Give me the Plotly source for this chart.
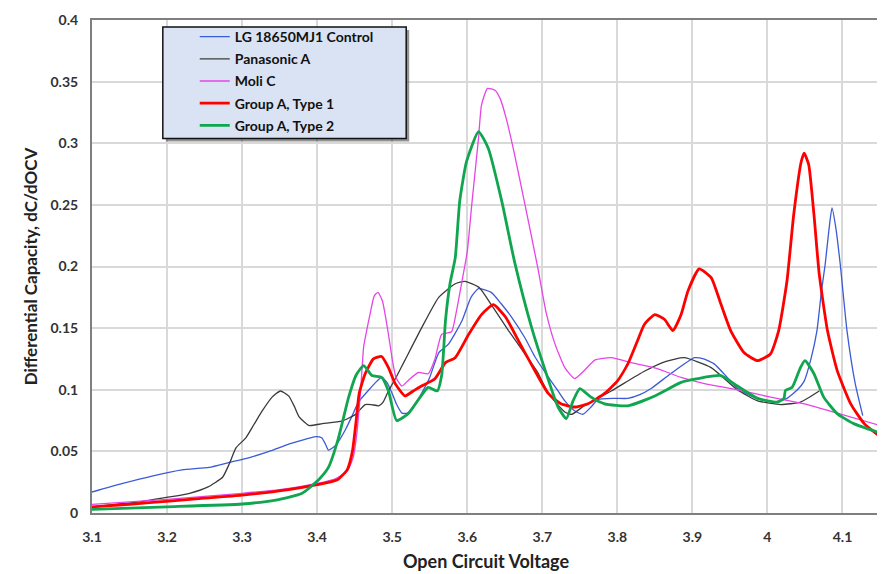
import plotly.graph_objects as go

# ---------------- data ----------------
lg_v = [3.100, 3.141, 3.180, 3.220, 3.256, 3.283, 3.310, 3.336, 3.363, 3.385, 3.398, 3.406, 3.411, 3.415,
        3.425, 3.438, 3.446, 3.455, 3.469, 3.478, 3.486, 3.493, 3.500, 3.506, 3.513, 3.520, 3.531, 3.539,
        3.550, 3.562, 3.575, 3.593, 3.605, 3.615, 3.632, 3.645, 3.659, 3.677, 3.690, 3.705, 3.721, 3.730,
        3.743, 3.754, 3.765, 3.774, 3.796, 3.814, 3.830, 3.845, 3.871, 3.903, 3.915, 3.929, 3.945, 3.960,
        3.985, 4.009, 4.026, 4.040, 4.049, 4.058, 4.066, 4.072, 4.077, 4.082, 4.086, 4.091, 4.097, 4.106,
        4.117, 4.127]
lg_c = [0.017, 0.024, 0.030, 0.035, 0.037, 0.041, 0.045, 0.050, 0.056, 0.060, 0.062, 0.061, 0.056, 0.051,
        0.055, 0.068, 0.078, 0.090, 0.100, 0.106, 0.110, 0.106, 0.097, 0.088, 0.081, 0.081, 0.089, 0.097,
        0.110, 0.130, 0.137, 0.156, 0.175, 0.182, 0.179, 0.170, 0.159, 0.142, 0.127, 0.113, 0.099, 0.091,
        0.083, 0.080, 0.086, 0.092, 0.093, 0.093, 0.096, 0.101, 0.113, 0.126, 0.125, 0.121, 0.111, 0.101,
        0.093, 0.090, 0.093, 0.100, 0.107, 0.125, 0.148, 0.180, 0.202, 0.230, 0.2475, 0.232, 0.202, 0.148,
        0.105, 0.079]

pan_v = [3.100, 3.130, 3.163, 3.203, 3.230, 3.254, 3.274, 3.283, 3.292, 3.305, 3.316, 3.327, 3.340, 3.351,
         3.362, 3.370, 3.376, 3.389, 3.407, 3.433, 3.451, 3.464, 3.472, 3.482, 3.488, 3.495, 3.506, 3.517,
         3.539, 3.562, 3.584, 3.597, 3.616, 3.632, 3.655, 3.677, 3.694, 3.708, 3.730, 3.739, 3.756, 3.792,
         3.836, 3.865, 3.889, 3.925, 3.960, 3.987, 4.018, 4.044, 4.069]
pan_c = [0.005, 0.007, 0.009, 0.013, 0.016, 0.021, 0.029, 0.040, 0.053, 0.061, 0.072, 0.083, 0.094, 0.099,
         0.095, 0.086, 0.078, 0.071, 0.0725, 0.0745, 0.080, 0.088, 0.088, 0.087, 0.090, 0.099, 0.111, 0.124,
         0.150, 0.175, 0.186, 0.188, 0.183, 0.169, 0.148, 0.129, 0.114, 0.097, 0.082, 0.080, 0.087, 0.099,
         0.115, 0.123, 0.126, 0.118, 0.100, 0.091, 0.088, 0.090, 0.099]

moli_v = [3.100, 3.200, 3.300, 3.350, 3.400, 3.425, 3.440, 3.448, 3.453, 3.458, 3.462, 3.466, 3.470, 3.476,
          3.481, 3.487, 3.495, 3.500, 3.505, 3.513, 3.522, 3.535, 3.548, 3.557, 3.566, 3.579, 3.586, 3.593,
          3.600, 3.606, 3.615, 3.619, 3.627, 3.637, 3.644, 3.652, 3.663, 3.677, 3.694, 3.705, 3.717, 3.730,
          3.743, 3.755, 3.770, 3.792, 3.818, 3.854, 3.885, 3.916, 3.960, 4.004, 4.049, 4.093, 4.150]
moli_c = [0.007, 0.011, 0.016, 0.019, 0.024, 0.028, 0.034, 0.045, 0.065, 0.100, 0.135, 0.148, 0.160, 0.176,
          0.179, 0.172, 0.145, 0.125, 0.110, 0.103, 0.108, 0.114, 0.113, 0.125, 0.145, 0.147, 0.165, 0.188,
          0.212, 0.250, 0.304, 0.331, 0.3445, 0.343, 0.336, 0.320, 0.291, 0.250, 0.199, 0.163, 0.137, 0.118,
          0.109, 0.115, 0.124, 0.126, 0.122, 0.117, 0.110, 0.105, 0.100, 0.094, 0.0886, 0.081, 0.071]

t1_v = [3.100, 3.150, 3.203, 3.250, 3.300, 3.362, 3.400, 3.427, 3.440, 3.447, 3.452, 3.456, 3.464, 3.475,
        3.486, 3.495, 3.504, 3.517, 3.528, 3.539, 3.557, 3.571, 3.584, 3.602, 3.619, 3.635, 3.651, 3.668,
        3.686, 3.708, 3.725, 3.743, 3.761, 3.783, 3.800, 3.814, 3.827, 3.836, 3.850, 3.863, 3.874, 3.885,
        3.894, 3.909, 3.925, 3.938, 3.951, 3.969, 3.987, 4.004, 4.015, 4.026, 4.035, 4.045, 4.049, 4.055,
        4.062, 4.069, 4.080, 4.093, 4.111, 4.129, 4.150]
t1_c = [0.005, 0.007, 0.0097, 0.012, 0.0145, 0.019, 0.023, 0.027, 0.035, 0.050, 0.075, 0.097, 0.113, 0.125,
        0.127, 0.118, 0.105, 0.095, 0.099, 0.103, 0.109, 0.122, 0.126, 0.145, 0.161, 0.169, 0.159, 0.140,
        0.120, 0.097, 0.0886, 0.086, 0.0886, 0.097, 0.107, 0.121, 0.140, 0.153, 0.161, 0.157, 0.148, 0.161,
        0.180, 0.198, 0.191, 0.1695, 0.148, 0.130, 0.1236, 0.129, 0.148, 0.188, 0.242, 0.285, 0.292, 0.2826,
        0.242, 0.194, 0.148, 0.1155, 0.0886, 0.0725, 0.062]

t2_v = [3.100, 3.200, 3.300, 3.345, 3.380, 3.402, 3.415, 3.428, 3.442, 3.452, 3.462, 3.473, 3.486, 3.495,
        3.506, 3.522, 3.535, 3.548, 3.560, 3.566, 3.571, 3.577, 3.584, 3.590, 3.599, 3.615, 3.628, 3.646,
        3.663, 3.686, 3.704, 3.721, 3.732, 3.741, 3.750, 3.765, 3.783, 3.814, 3.850, 3.885, 3.907, 3.938,
        3.960, 3.987, 4.013, 4.022, 4.024, 4.033, 4.044, 4.050, 4.062, 4.075, 4.093, 4.115, 4.150]
t2_c = [0.003, 0.005, 0.0073, 0.0105, 0.016, 0.027, 0.037, 0.060, 0.094, 0.112, 0.1196, 0.1115, 0.110, 0.099,
        0.075, 0.081, 0.092, 0.102, 0.099, 0.112, 0.156, 0.186, 0.207, 0.253, 0.285, 0.3095, 0.296, 0.253,
        0.204, 0.150, 0.1155, 0.086, 0.0765, 0.091, 0.101, 0.094, 0.0886, 0.087, 0.095, 0.106, 0.109, 0.1115,
        0.103, 0.093, 0.090, 0.093, 0.0994, 0.102, 0.118, 0.1236, 0.113, 0.094, 0.0806, 0.0725, 0.065]

series_names = ["LG 18650MJ1 Control", "Panasonic A", "Moli C", "Group A, Type 1", "Group A, Type 2"]

x_ticks = [3.1, 3.2, 3.3, 3.4, 3.5, 3.6, 3.7, 3.8, 3.9, 4.0, 4.1]
x_tick_text = ["3.1", "3.2", "3.3", "3.4", "3.5", "3.6", "3.7", "3.8", "3.9", "4", "4.1"]
y_ticks = [0, 0.05, 0.1, 0.15, 0.2, 0.25, 0.3, 0.35, 0.4]
y_tick_text = ["0", "0.05", "0.1", "0.15", "0.2", "0.25", "0.3", "0.35", "0.4"]

# ---------------- figure ----------------
styles = [
    ("#3b5bd6", 1.3),
    ("#3a3a3a", 1.3),
    ("#e645e6", 1.3),
    ("#ff0000", 2.8),
    ("#10a64f", 2.8),
]
data = [(lg_v, lg_c), (pan_v, pan_c), (moli_v, moli_c), (t1_v, t1_c), (t2_v, t2_c)]

FONT = "Lato, 'Open Sans', sans-serif"

# The page body has an 8px margin, so figure coordinates = screen - 8
OFF = 8
W, H = 885 - OFF, 574 - OFF
L, R, T, B = 92 - OFF, 882 - OFF, 18 - OFF, 513 - OFF


def px(xp):
    return (xp - OFF - L) / (R - L)


def py(yp):
    return (B - (yp - OFF)) / (B - T)


fig = go.Figure()
for i, ((xv, yv), name, (col, w)) in enumerate(zip(data, series_names, styles)):
    fig.add_trace(go.Scatter(
        x=xv, y=yv, name=name, mode="lines",
        line=dict(color=col, width=w, shape="spline", smoothing=0.5),
        legendgroup=f"g{i}",
    ))

# legend box (shadow + light blue panel), in paper coords (screen px)
fig.add_shape(type="rect", xref="paper", yref="paper",
              x0=px(166), x1=px(410), y0=py(140), y1=py(28),
              fillcolor="rgba(60,60,60,0.55)", line=dict(width=0), layer="above")
fig.add_shape(type="rect", xref="paper", yref="paper",
              x0=px(163), x1=px(407), y0=py(137), y1=py(25),
              fillcolor="#dae3f3", line=dict(color="#111111", width=1.5), layer="above")

fig.update_layout(
    width=W, height=H,
    margin=dict(l=L, r=W - R, t=T, b=H - B),
    paper_bgcolor="white", plot_bgcolor="white",
    font=dict(family=FONT, color="#222222"),
    showlegend=True,
    legend=dict(
        x=px(195), y=py(19), xanchor="left", yanchor="top",
        bgcolor="rgba(0,0,0,0)", borderwidth=0,
        font=dict(family=FONT, size=14, color="#111111", weight="bold"),
        traceorder="grouped", tracegroupgap=1, itemwidth=30,
    ),
    xaxis=dict(
        range=[3.1, 4.15], tickvals=x_ticks, ticktext=x_tick_text,
        showgrid=True, gridcolor="#d9d9d9", gridwidth=1.5,
        showline=True, linecolor="#7f7f7f", linewidth=2, mirror=True,
        zeroline=False, ticks="", ticklabelstandoff=10,
        tickfont=dict(family=FONT, size=14, color="#333333", weight="bold"),
        title=dict(text="Open Circuit Voltage", standoff=12,
                   font=dict(family=FONT, size=18, color="#222222", weight="bold")),
    ),
    yaxis=dict(
        range=[0, 0.4], tickvals=y_ticks, ticktext=y_tick_text,
        showgrid=True, gridcolor="#d9d9d9", gridwidth=1.5,
        showline=True, linecolor="#7f7f7f", linewidth=2, mirror=True,
        zeroline=False, ticks="", ticklabelstandoff=9,
        tickfont=dict(family=FONT, size=14, color="#333333", weight="bold"),
        title=dict(text="Differential Capacity, dC/dOCV", standoff=9,
                   font=dict(family=FONT, size=17, color="#222222", weight="bold")),
    ),
)

fig.write_html("out.html")
